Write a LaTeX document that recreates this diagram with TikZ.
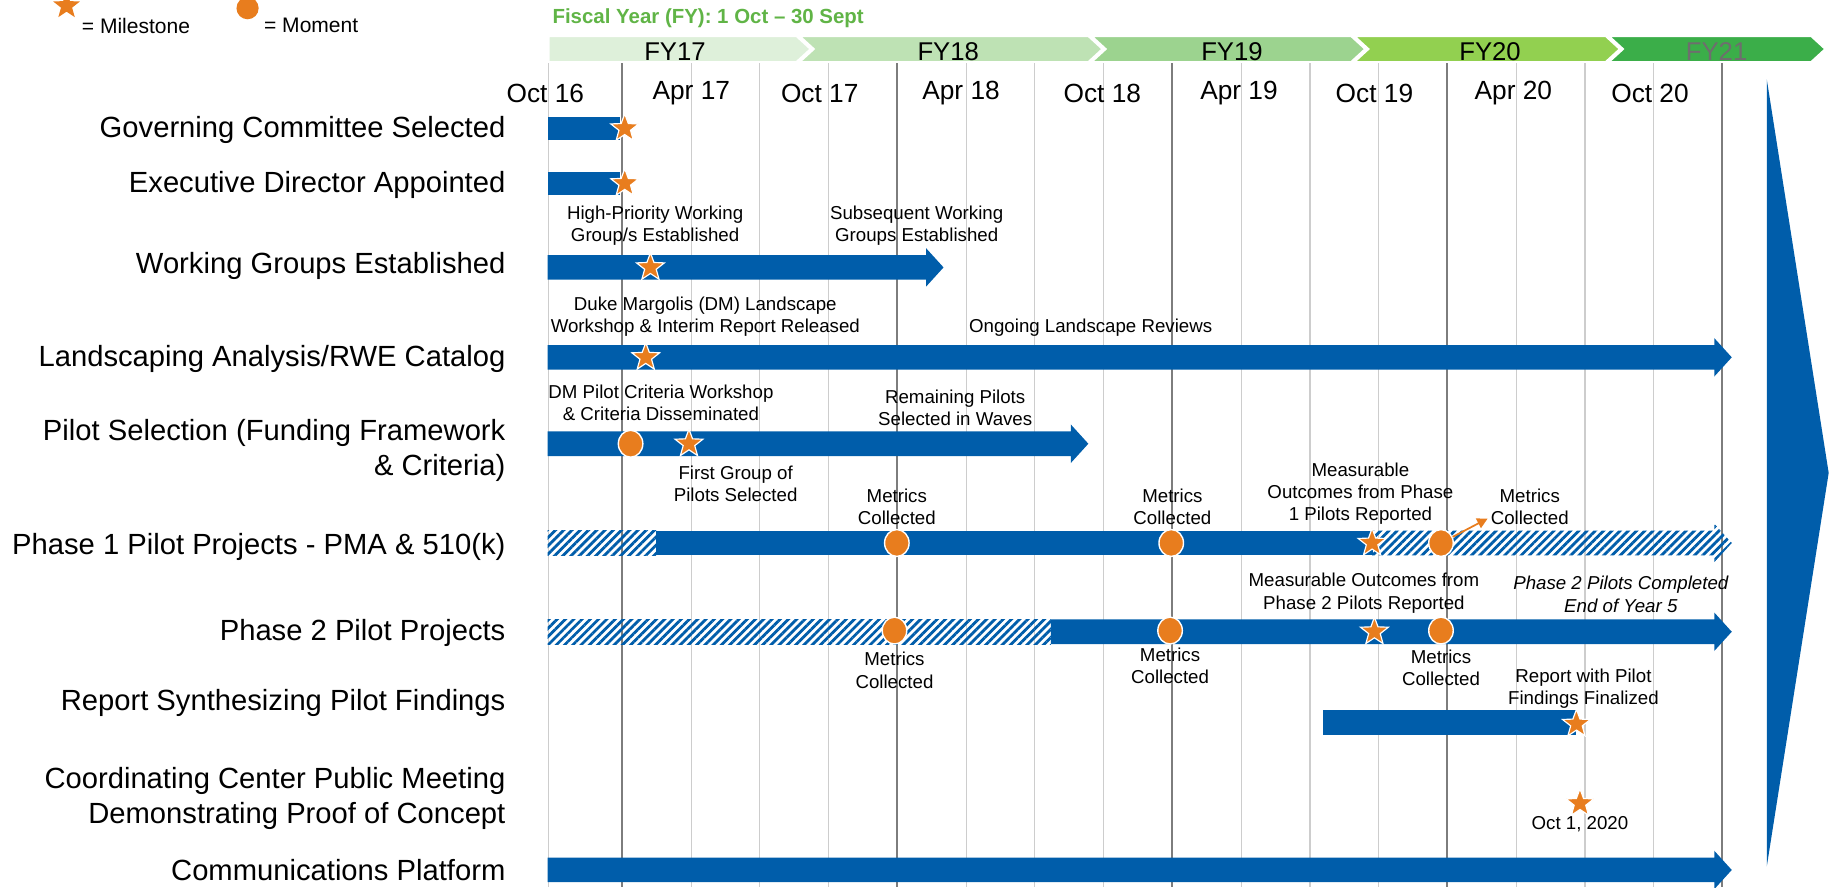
\documentclass[tikz,border=0pt]{standalone}
\usepackage{fontspec}
\setmainfont{Liberation Sans}
\usetikzlibrary{shapes.geometric,patterns.meta,arrows.meta}
\definecolor{barblue}{RGB}{0,93,170}
\definecolor{mstar}{RGB}{232,125,30}
\definecolor{gridl}{RGB}{205,205,205}
\definecolor{gridd}{RGB}{125,125,125}
\definecolor{fyA}{RGB}{222,240,218}
\definecolor{fyB}{RGB}{190,226,180}
\definecolor{fyC}{RGB}{156,211,143}
\definecolor{fyD}{RGB}{146,208,80}
\definecolor{fyE}{RGB}{59,174,73}
\definecolor{fytitle}{RGB}{96,180,70}
\newcommand{\tlarrow}[4]{% x1, x2, y, style
  \path[#4] (#1,#3-10.5) -- (#2-15,#3-10.5) -- (#2-15,#3-16.5) -- (#2,#3) -- (#2-15,#3+16.5) -- (#2-15,#3+10.5) -- (#1,#3+10.5) -- cycle;}
\tikzset{
  solidbar/.style={fill=barblue},
  hatchbar/.style={pattern={Lines[angle=45,distance=5pt,line width=2.4pt]},pattern color=barblue},
  mile/.style={star,star points=5,star point ratio=2.4,minimum size=25pt,inner sep=0pt,fill=mstar,draw=white,line width=1pt},
  moment/.style={ellipse,minimum width=21pt,minimum height=23pt,inner sep=0pt,fill=mstar,draw=white,line width=1.2pt},
  lab/.style={font=\fontsize{25}{30}\selectfont,anchor=east,align=right,inner sep=0pt},
  note/.style={font=\fontsize{16}{19}\selectfont,align=center,inner sep=0pt},
  month/.style={font=\fontsize{22.5}{26}\selectfont,inner sep=0pt},
  fy/.style={font=\fontsize{22}{26}\selectfont,inner sep=0pt},
  chev/.style={draw=white,line width=1.5pt},
}
\begin{document}
\begin{tikzpicture}[x=1pt,y=-1pt]
\useasboundingbox (0,0) rectangle (1568,760);
% grid lines
\draw[gridl,line width=1pt] (470,31) -- (470,760);
\foreach \k in {0,...,16}{
  \pgfmathsetmacro{\xx}{533+58.875*\k}
  \pgfmathtruncatemacro{\m}{mod(\k,4)}
  \ifnum\m=0
    \draw[gridd,line width=1.6pt] (\xx,53) -- (\xx,760);
  \else
    \draw[gridl,line width=1pt] (\xx,53) -- (\xx,760);
  \fi
}
% header chevrons
\fill[fyA,chev] (470,31) -- (682,31) -- (694,42) -- (682,53) -- (470,53) -- cycle;
\fill[fyB,chev] (685,31) -- (932,31) -- (944,42) -- (932,53) -- (685,53) -- (697,42) -- cycle;
\fill[fyC,chev] (935,31) -- (1157,31) -- (1169,42) -- (1157,53) -- (935,53) -- (947,42) -- cycle;
\fill[fyD,chev] (1160,31) -- (1375,31) -- (1387,42) -- (1375,53) -- (1160,53) -- (1172,42) -- cycle;
\fill[fyE,chev] (1378,31) -- (1551,31) -- (1563,42) -- (1551,53) -- (1378,53) -- (1390,42) -- cycle;
\node[fy] (fy17) at (578,44) {FY17};
\node[fy] (fy18) at (812,44) {FY18};
\node[fy] (fy19) at (1055,44) {FY19};
\node[fy] (fy20) at (1276,44) {FY20};
\node[fy,text={rgb,255:red,110;green,110;blue,110}] (fy21) at (1470,44) {FY21};
\node[font=\bfseries\fontsize{17.5}{20}\selectfont,text=fytitle,anchor=west,inner sep=0pt] (fiscal) at (473,16) {Fiscal Year (FY): 1 Oct – 30 Sept};
% legend
\node[mile,draw=none,minimum size=24pt] (legstar) at (57,5) {};
\node[font=\fontsize{18}{21}\selectfont,anchor=west,inner sep=0pt] (legmile) at (70,22) {= Milestone};
\node[circle,fill=mstar,minimum size=19pt,inner sep=0pt] (legmom) at (212,7) {};
\node[font=\fontsize{18}{21}\selectfont,anchor=west,inner sep=0pt] (legmomt) at (226,22) {= Moment};
% month labels
\node[month] (m1) at (467,80) {Oct 16};
\node[month] (m2) at (592,80) {Apr 17};
\node[month] (m3) at (702,80) {Oct 17};
\node[month] (m4) at (823,80) {Apr 18};
\node[month] (m5) at (944,80) {Oct 18};
\node[month] (m6) at (1061,80) {Apr 19};
\node[month] (m7) at (1177,80) {Oct 19};
\node[month] (m8) at (1296,80) {Apr 20};
\node[month] (m9) at (1413,80) {Oct 20};
% big arrow
\fill[barblue] (1513,68) -- (1566,405) -- (1513,742) -- cycle;
% row labels
\node[lab] (r1) at (433,111) {Governing Committee Selected};
\node[lab] (r2) at (433,158) {Executive Director Appointed};
\node[lab] (r3) at (433,228) {Working Groups Established};
\node[lab] (r4) at (433,307) {Landscaping Analysis/RWE Catalog};
\node[lab] (r5) at (433,386) {Pilot Selection (Funding Framework\\\& Criteria)};
\node[lab] (r6) at (433,468) {Phase 1 Pilot Projects - PMA \& 510(k)};
\node[lab] (r7) at (433,542) {Phase 2 Pilot Projects};
\node[lab] (r8) at (433,602) {Report Synthesizing Pilot Findings};
\node[lab] (r9) at (433,684) {Coordinating Center Public Meeting\\Demonstrating Proof of Concept};
\node[lab] (r10) at (433,745) {Communications Platform};
% bars
\fill[barblue] (469,100) rectangle (531,120);
\fill[barblue] (469,147) rectangle (531,167);
\tlarrow{469}{808}{229}{solidbar}
\tlarrow{469}{1483}{306}{solidbar}
\tlarrow{469}{932}{380}{solidbar}
\path[hatchbar] (469,454.5) rectangle (562,475.5);
\fill[barblue] (562,454.5) rectangle (1176,475.5);
\tlarrow{1175}{1483}{465}{hatchbar}
\path[hatchbar] (469,530.5) rectangle (900,551.5);
\tlarrow{900}{1483}{541}{solidbar}
\fill[barblue] (1133,608) rectangle (1350,629);
\tlarrow{469}{1483}{745}{solidbar}
% markers
\node[mile] (s1) at (535,110) {};
\node[mile] (s2) at (535,157) {};
\node[mile] (s3) at (557,229) {};
\node[mile] (s4) at (553,306) {};
\node[moment] (c5) at (540,380) {};
\node[mile] (s5) at (590,380) {};
\node[moment] (c61) at (768,465) {};
\node[moment] (c62) at (1003,465) {};
\node[mile] (s6) at (1175,465) {};
\node[moment] (c63) at (1234,465) {};
\node[moment] (c71) at (766,540) {};
\node[moment] (c72) at (1002,540) {};
\node[mile] (s7) at (1177,541) {};
\node[moment] (c73) at (1234,540) {};
\node[mile] (s8) at (1350,620) {};
\node[mile] (s9) at (1353,688) {};
% notes
\node[note] (n3a) at (561,193) {High-Priority Working\\Group/s Established};
\node[note] (n3b) at (785,193) {Subsequent Working\\Groups Established};
\node[note] (n4a) at (604,271) {Duke Margolis (DM) Landscape\\Workshop \& Interim Report Released};
\node[note] (n4b) at (934,281) {Ongoing Landscape Reviews};
\node[note] (n5a) at (566,345) {DM Pilot Criteria Workshop\\\& Criteria Disseminated};
\node[note] (n5b) at (818,349) {Remaining Pilots\\Selected in Waves};
\node[note] (n5c) at (630,414) {First Group of\\Pilots Selected};
\node[note] (n6a) at (768,434) {Metrics\\Collected};
\node[note] (n6b) at (1004,434) {Metrics\\Collected};
\node[note] (n6c) at (1165,423) {Measurable\\Outcomes from Phase\\1 Pilots Reported};
\node[note] (n6d) at (1310,434) {Metrics\\Collected};
\node[note] (n7a) at (1168,508) {Measurable Outcomes from\\Phase 2 Pilots Reported};
\node[note,font=\itshape\fontsize{16}{19}\selectfont] (n7b) at (1388,509) {Phase 2 Pilots Completed\\End of Year 5};
\node[note] (n7c) at (766,574) {Metrics\\Collected};
\node[note] (n7d) at (1002,570) {Metrics\\Collected};
\node[note] (n7e) at (1234,572) {Metrics\\Collected};
\node[note] (n8) at (1356,590) {Report with Pilot\\Findings Finalized};
\node[note] (n9) at (1353,706) {Oct 1, 2020};
% orange pointer
\coordinate (pend) at (1274,444);
\draw[mstar,line width=1.5pt,-{Triangle[length=9pt,width=9pt]}] (c63) -- (pend);
\end{tikzpicture}
\end{document}
